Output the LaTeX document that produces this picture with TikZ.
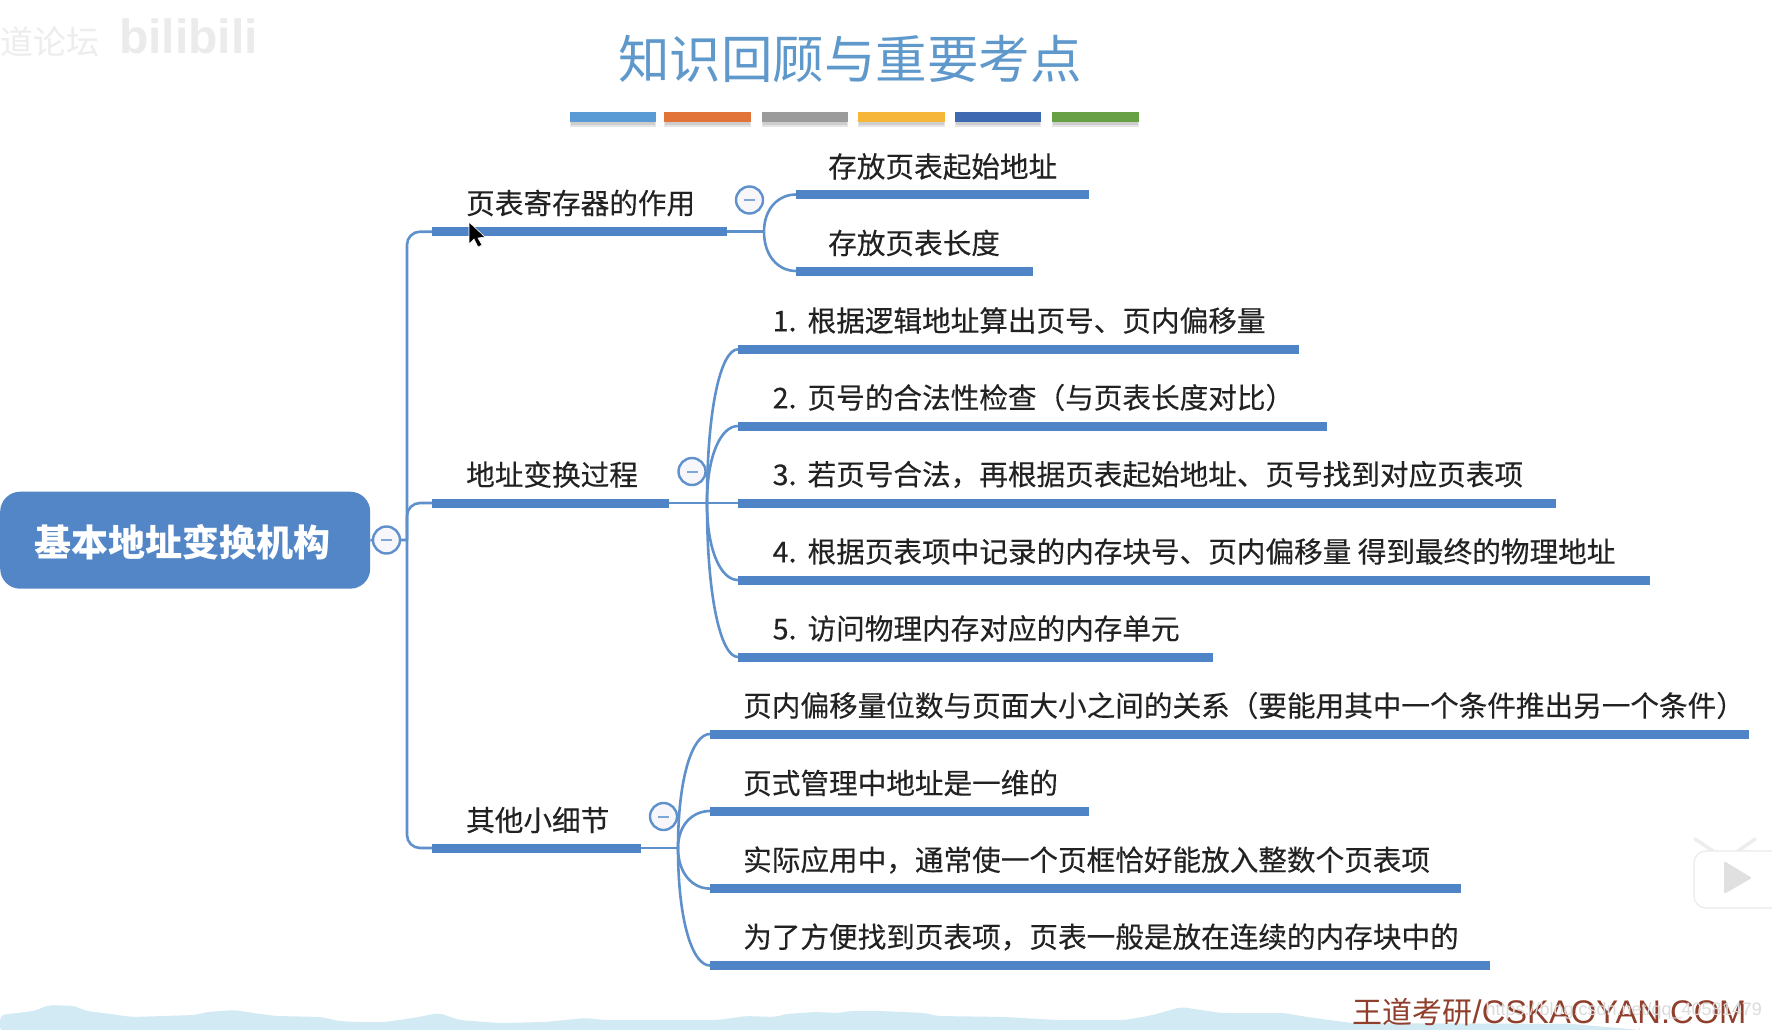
\documentclass[tikz,border=0pt]{standalone}
\usepackage{fontspec}
\setmainfont{Noto Sans CJK SC}
\newfontfamily\latinf{Liberation Sans}
\newfontfamily\labelf[FakeBold=0.25]{Noto Sans CJK SC}
\usetikzlibrary{calc}
\definecolor{barblue}{HTML}{4F84C6}
\definecolor{linkblue}{HTML}{5E90CC}
\definecolor{rootblue}{HTML}{5386C6}
\definecolor{titleblue}{HTML}{5F99CC}
\definecolor{txt}{HTML}{222222}
\definecolor{brandred}{HTML}{8F3F2C}
\definecolor{wave}{HTML}{D2EAF3}
\definecolor{foldfill}{HTML}{F6F6FB}
\definecolor{tc1}{HTML}{5B9BD5}
\definecolor{tc2}{HTML}{E2743A}
\definecolor{tc3}{HTML}{9B9B9B}
\definecolor{tc4}{HTML}{F5B63A}
\definecolor{tc5}{HTML}{3F69B0}
\definecolor{tc6}{HTML}{68A145}
\tikzset{
  barnode/.style={fill=barblue,inner sep=0pt,minimum height=9pt,anchor=west,draw=none},
  link/.style={draw=linkblue,line width=2.6pt},
  label/.style={anchor=west,inner sep=0pt,text=txt,font=\labelf\fontsize{28.62pt}{30pt}\selectfont},
  fold/.style={circle,draw=linkblue,fill=foldfill,line width=2.4pt,minimum size=27pt,inner sep=0pt},
  foldbar/.style={draw=linkblue!80,line width=2pt},
  titlebar/.style={inner sep=0pt,minimum height=10.5pt,anchor=west},
}
\newcommand{\mkbar}[4]{\pgfmathsetmacro{\barw}{#3-#2}\node[barnode,minimum width=\barw pt] (#1) at (#2,#4) {};}
\newcommand{\kid}[2]{\draw[link] (#1) .. controls ($(#1)!0.62!(#1|-#2.west)$) and ($(#2.west)!0.55!(#1|-#2.west)$) .. (#2.west);}
\newcommand{\foldmark}[1]{\draw[foldbar] ($(#1)+(-5.5,0)$) -- ($(#1)+(5.5,0)$);}
\newcommand{\tbar}[4]{\pgfmathsetmacro{\barw}{#3-#2}
  \fill[black,opacity=.10] (#2,113) rectangle (#3,127);
  \fill[black,opacity=.10] (#2+1,115) rectangle (#3-1,125);
  \node[titlebar,fill=#4,minimum width=\barw pt] (#1) at (#2,117) {};}
\newcommand{\num}[1]{#1.\hspace{2.5pt} }
\begin{document}
\begin{tikzpicture}[x=1pt,y=-1pt]
\useasboundingbox (0,0) rectangle (1772,1030);
\fill[white] (0,0) rectangle (1772,1030);
% bottom wave
\fill[wave,rounded corners=5pt] (0,1032) -- (0,1015) -- (34,1011) -- (49,1005) -- (75,1006) -- (86,1011) -- (103,1013) -- (132,1017) -- (195,1015) -- (207,1012) -- (235,1010) -- (253,1013) -- (276,1016) -- (321,1017) -- (339,1021) -- (356,1022) -- (385,1022) -- (413,1018) -- (439,1013) -- (459,1020) -- (499,1023) -- (545,1022) -- (586,1018) -- (603,1020) -- (718,1020) -- (746,1016) -- (775,1017) -- (786,1014) -- (815,1012) -- (838,1013) -- (850,1011) -- (880,1011) -- (925,1013) -- (937,1016) -- (1005,1017) -- (1056,1020) -- (1125,1020) -- (1153,1015) -- (1181,1007) -- (1221,1013) -- (1284,1013) -- (1307,1017) -- (1352,1023) -- (1573,1024) -- (1640,1030) -- (1640,1032) -- cycle;
% faint watermarks
\node[anchor=west,inner sep=0pt,text=black!7,font=\fontsize{33pt}{36pt}\selectfont] (wmcn) at (0,42) {道论坛};
\node[anchor=west,inner sep=0pt,text=black!8,font=\fontsize{48pt}{50pt}\selectfont\bfseries\latinf] (wmbili) at (119,36) {bilibili};
% title
\node[inner sep=0pt,text=titleblue,font=\fontsize{51.5pt}{56pt}\selectfont] (title) at (850,58.5) {知识回顾与重要考点};
\tbar{ta}{569.5}{656}{tc1}
\tbar{tb}{663.5}{751}{tc2}
\tbar{tc}{762}{848}{tc3}
\tbar{td}{857.5}{945}{tc4}
\tbar{te}{955}{1041}{tc5}
\tbar{tf}{1052}{1139}{tc6}
% root
\node[anchor=north west,fill=rootblue,inner sep=0pt,minimum width=370pt,minimum height=97pt,rounded corners=20pt] (rootbox) at (0,491.5) {};
\node[inner sep=0pt,text=white,font=\fontsize{37pt}{40pt}\selectfont\bfseries] (root) at (182,542.5) {基本地址变换机构};
% bars
\mkbar{bA}{432}{727}{231.7}
\mkbar{bB}{432}{669}{503}
\mkbar{bC}{432}{641}{848}
\mkbar{a1}{796}{1089}{194.5}
\mkbar{a2}{796}{1033}{271}
\mkbar{s1}{738}{1298.5}{349.3}
\mkbar{s2}{738}{1327}{426}
\mkbar{s3}{738}{1556}{503}
\mkbar{s4}{738}{1650}{580}
\mkbar{s5}{738}{1213}{657}
\mkbar{c1}{710}{1749}{734}
\mkbar{c2}{710}{1089}{811}
\mkbar{c3}{710}{1461}{888.6}
\mkbar{c4}{710}{1489.5}{965.5}
% junctions
\coordinate (jT) at (407,540);
\coordinate (jA) at (764,231.7);
\coordinate (jB) at (707,503);
\coordinate (jC) at (678,848);
% trunk
\draw[link,rounded corners=13pt] (jT) |- (bA.west);
\draw[link,rounded corners=13pt] (jT) |- (bB.west);
\draw[link,rounded corners=13pt] (jT) |- (bC.west);
\draw[link] (rootbox.east) -- (jT);
% branch links
\draw[link] (bA.east) -- (jA);
\draw[link] (bB.east) -- (s3.west);
\draw[link] (bC.east) -- (jC);
\kid{jA}{a1}\kid{jA}{a2}
\kid{jB}{s1}\kid{jB}{s2}\kid{jB}{s4}\kid{jB}{s5}
\kid{jC}{c1}\kid{jC}{c2}\kid{jC}{c3}\kid{jC}{c4}
% fold circles
\node[fold] (f0) at (386.5,540) {}; \foldmark{f0}
\node[fold] (f1) at (749.5,200) {}; \foldmark{f1}
\node[fold] (f2) at (692,471.5) {}; \foldmark{f2}
\node[fold] (f3) at (663.5,816.5) {}; \foldmark{f3}
% labels
\node[label] (tA) at (466,203) {页表寄存器的作用};
\node[label] (tB) at (466,474.5) {地址变换过程};
\node[label] (tC) at (466,820) {其他小细节};
\node[label] (ta1) at (828,166.5) {存放页表起始地址};
\node[label] (ta2) at (828,243) {存放页表长度};
\node[label] (ts1) at (772.5,320.5) {\num{1}根据逻辑地址算出页号、页内偏移量};
\node[label] (ts2) at (772.5,397.5) {\num{2}页号的合法性检查（与页表长度对比）};
\node[label] (ts3) at (772.5,474.5) {\num{3}若页号合法，再根据页表起始地址、页号找到对应页表项};
\node[label] (ts4) at (772.5,551.5) {\num{4}根据页表项中记录的内存块号、页内偏移量 得到最终的物理地址};
\node[label] (ts5) at (772.5,628.5) {\num{5}访问物理内存对应的内存单元};
\node[label] (tc1) at (743,705.5) {页内偏移量位数与页面大小之间的关系（要能用其中一个条件推出另一个条件）};
\node[label] (tc2) at (743,783) {页式管理中地址是一维的};
\node[label] (tc3) at (743,860) {实际应用中，通常使一个页框恰好能放入整数个页表项};
\node[label] (tc4) at (743,937) {为了方便找到页表项，页表一般是放在连续的内存块中的};
% brand
\node[anchor=west,inner sep=0pt,text=brandred,font=\fontsize{30pt}{32pt}\selectfont] (brand) at (1352.5,1012) {王道考研\fontsize{32.7pt}{34pt}\selectfont\latinf /CSKAOYAN.COM};
\node[anchor=east,inner sep=0pt,text=black!14,font=\fontsize{18pt}{20pt}\selectfont\latinf] (wmurl) at (1762,1011) {https://blog.csdn.net/qq\_40581479};
% mouse cursor
\fill[black,draw=white,line width=.6pt] (469,222) -- (469,244) -- (474,239) -- (478,247) -- (482,245) -- (478,238) -- (485,237) -- cycle;
% player logo
\draw[black!7,line width=3.5pt,line cap=round] (1713,851) -- (1695,839);
\draw[black!7,line width=3.5pt,line cap=round] (1738,851) -- (1755,839);
\fill[white,draw=black!8,line width=1.2pt,rounded corners=12pt] (1694,851) rectangle (1790,908);
\fill[black!12,rounded corners=2pt] (1724,861) -- (1752,878) -- (1724,894) -- cycle;
\end{tikzpicture}
\end{document}
